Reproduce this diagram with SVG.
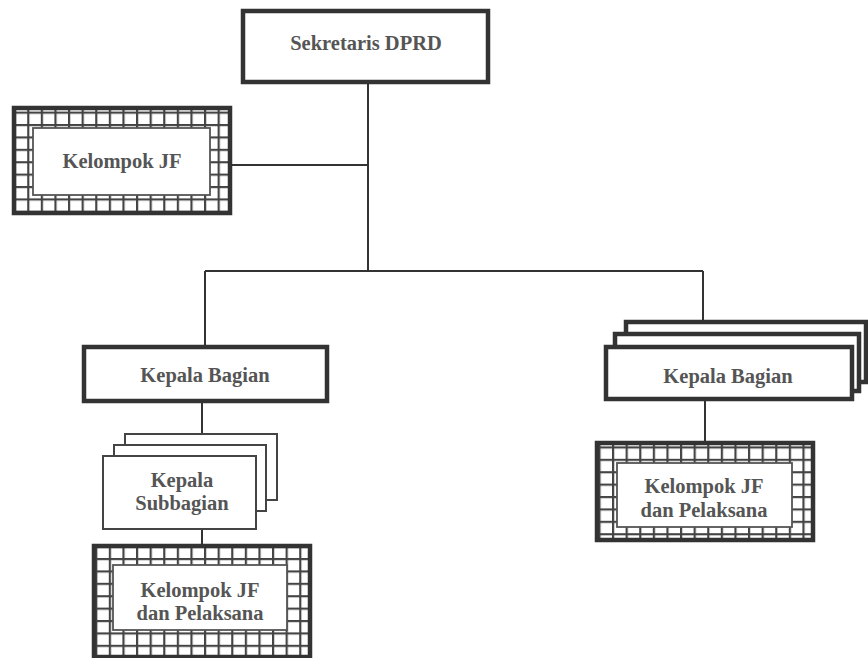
<svg xmlns="http://www.w3.org/2000/svg" width="868" height="658" viewBox="0 0 868 658">
  <defs>
    <pattern id="grid" patternUnits="userSpaceOnUse" width="13.6" height="12.4">
      <rect width="13.6" height="12.4" fill="#fff"/>
      <path d="M0 1.1H13.6M1.1 0V12.4" stroke="#444" stroke-width="2.2" fill="none"/>
    </pattern>
  </defs>
  <style>
    .lbl { font-family: "Liberation Serif", "Times New Roman", serif; font-weight: bold; font-size: 20.5px; fill: #555; text-anchor: middle; }
    .thick { fill: #fff; stroke: #333; stroke-width: 4.5; }
    .thin { fill: #fff; stroke: #444; stroke-width: 2; }
    .hatch { fill: url(#grid); stroke: #333; stroke-width: 4.5; }
    .inner { fill: #fff; stroke: #555; stroke-width: 1.8; }
    .wire { stroke: #333; stroke-width: 2; fill: none; }
  </style>
  <rect width="868" height="658" fill="#fff"/>

  <!-- connectors -->
  <g id="connectors">
    <path class="wire" d="M368 82V271"/>
    <path class="wire" d="M230 165H368"/>
    <path class="wire" d="M205 271H703"/>
    <path class="wire" d="M205 271V347"/>
    <path class="wire" d="M703 271V322"/>
    <path class="wire" d="M202 401V434"/>
    <path class="wire" d="M202 529V545"/>
    <path class="wire" d="M705 399V442"/>
  </g>

  <!-- head of secretariat -->
  <g id="sekretaris">
    <rect class="thick" x="243" y="11" width="245" height="71"/>
    <text class="lbl" x="366" y="50">Sekretaris DPRD</text>
  </g>

  <!-- functional group under the secretary -->
  <g id="kelompok-jf">
    <rect class="hatch" x="14" y="108" width="216" height="105"/>
    <rect class="inner" x="33" y="128" width="177" height="67"/>
    <text class="lbl" x="122" y="168">Kelompok JF</text>
  </g>

  <!-- left division -->
  <g id="kepala-bagian-kiri">
    <rect class="thick" x="84" y="347" width="243" height="54"/>
    <text class="lbl" x="205" y="382">Kepala Bagian</text>
  </g>

  <!-- stacked sub-division heads -->
  <g id="kepala-subbagian">
    <rect class="thin" x="125" y="434" width="152" height="66"/>
    <rect class="thin" x="114" y="445" width="152" height="66"/>
    <rect class="thin" x="103" y="456" width="153" height="73"/>
    <text class="lbl" x="182" y="487">Kepala</text>
    <text class="lbl" x="182" y="510">Subbagian</text>
  </g>

  <!-- functional group and staff, left branch -->
  <g id="kelompok-jf-pelaksana-kiri">
    <rect class="hatch" x="94" y="546" width="216" height="111"/>
    <rect class="inner" x="113" y="565" width="174" height="65"/>
    <text class="lbl" x="200" y="597">Kelompok JF</text>
    <text class="lbl" x="200" y="620">dan Pelaksana</text>
  </g>

  <!-- stacked right divisions -->
  <g id="kepala-bagian-kanan">
    <rect class="thick" x="626" y="322" width="240" height="60"/>
    <rect class="thick" x="615" y="334" width="244" height="57"/>
    <rect class="thick" x="606" y="347" width="246" height="52"/>
    <text class="lbl" x="728" y="383">Kepala Bagian</text>
  </g>

  <!-- functional group and staff, right branch -->
  <g id="kelompok-jf-pelaksana-kanan">
    <rect class="hatch" x="597" y="443" width="216" height="97"/>
    <rect class="inner" x="617" y="463" width="175" height="64"/>
    <text class="lbl" x="704" y="493">Kelompok JF</text>
    <text class="lbl" x="704" y="517">dan Pelaksana</text>
  </g>
</svg>
